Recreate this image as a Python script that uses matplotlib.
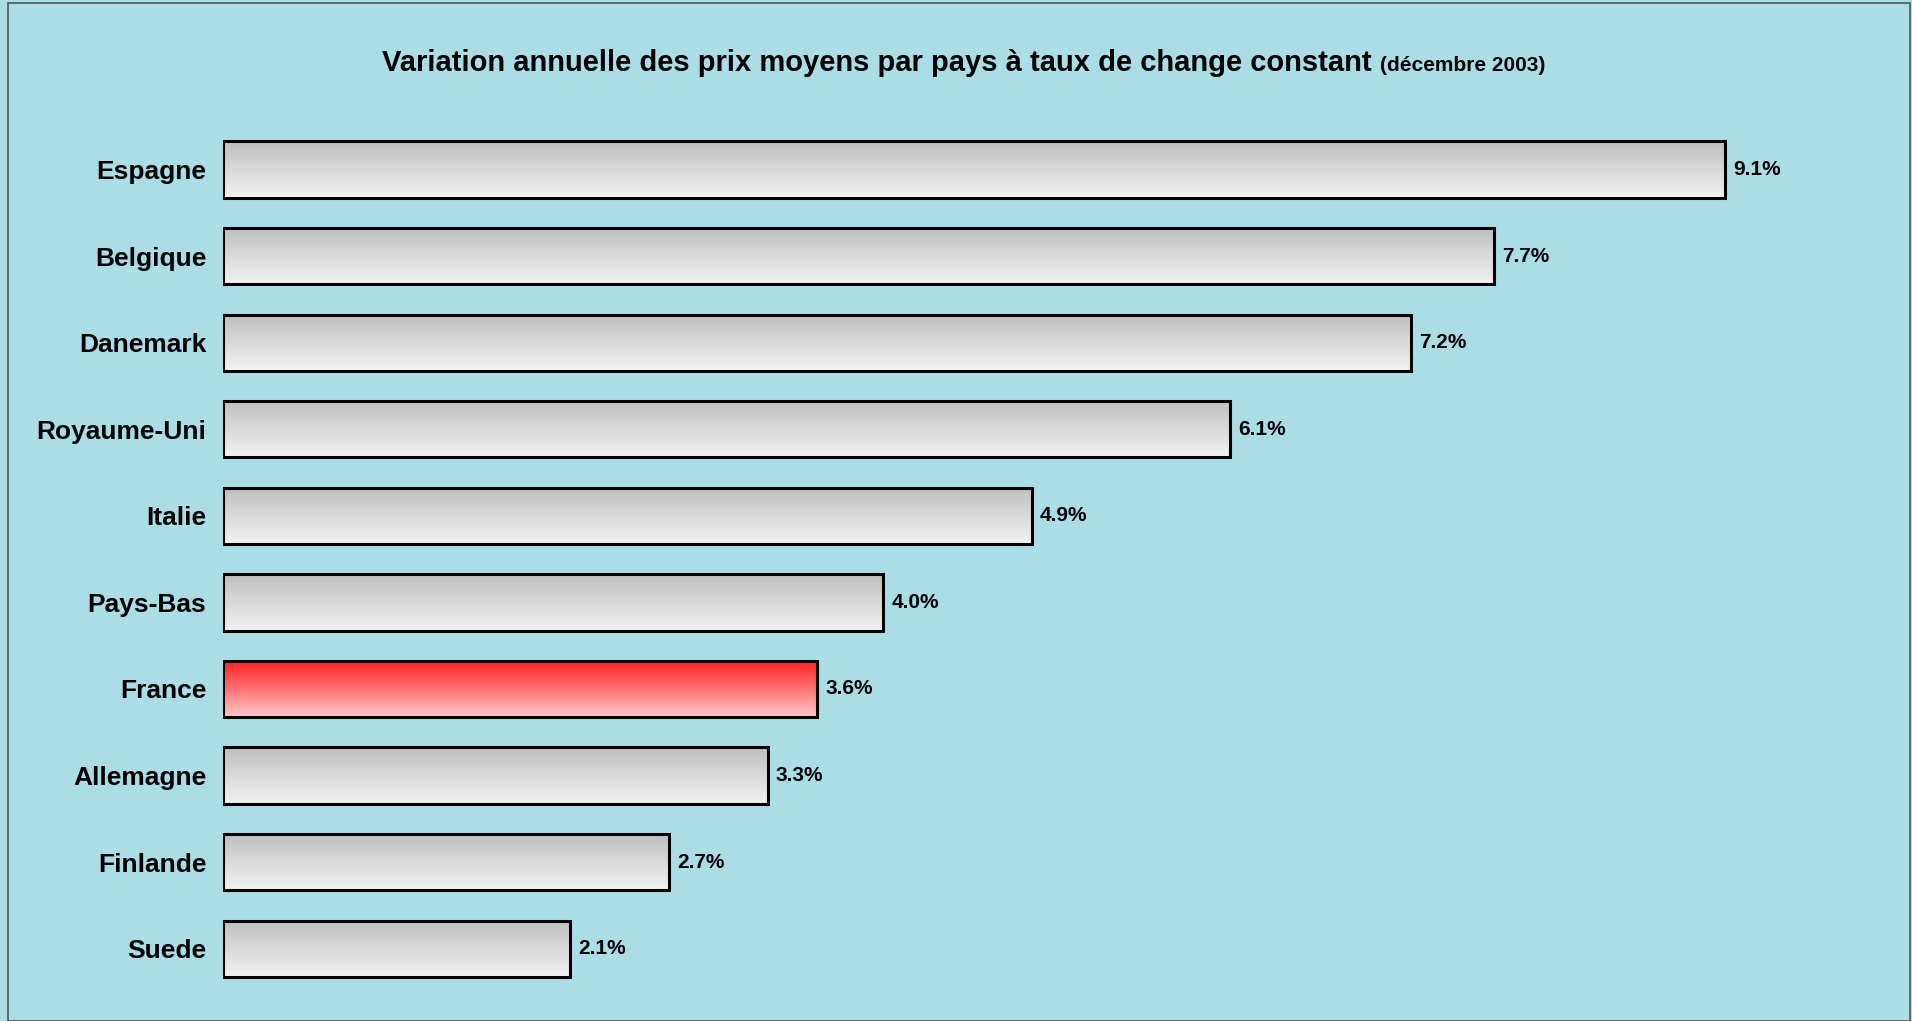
import matplotlib
matplotlib.use("Agg")
import matplotlib.pyplot as plt
import numpy as np
from matplotlib.patches import Rectangle

countries = ["Espagne", "Belgique", "Danemark", "Royaume-Uni", "Italie",
             "Pays-Bas", "France", "Allemagne", "Finlande", "Suede"]
values = [9.1, 7.7, 7.2, 6.1, 4.9, 4.0, 3.6, 3.3, 2.7, 2.1]
highlight = "France"

plt.rcParams['font.family'] = ['Liberation Sans', 'DejaVu Sans']

fig = plt.figure(figsize=(19.12, 10.21), dpi=100)
fig.patch.set_facecolor('#abdde6')
# thin frame round the picture
fig.patches.append(Rectangle((0.004, 0.0), 0.995, 0.997, transform=fig.transFigure,
                             fill=False, edgecolor='#555555', linewidth=1.2))

ax = fig.add_axes([0.1166, 0.0284, 0.877, 0.848])
ax.set_facecolor('none')

y = np.arange(len(countries))
bars = ax.barh(y, values, height=0.65, facecolor='none', edgecolor='black',
               linewidth=2.2, zorder=3)

grey = np.linspace(0, 1, 64).reshape(-1, 1)
for bar, name, v in zip(bars, countries, values):
    x0, y0 = bar.get_x(), bar.get_y()
    w, h = bar.get_width(), bar.get_height()
    if name == highlight:
        top, bot = np.array([1.0, 0.12, 0.12]), np.array([1.0, 0.78, 0.78])
    else:
        top, bot = np.array([0.75, 0.75, 0.75]), np.array([0.95, 0.95, 0.95])
    img = top + (bot - top) * grey[:, :, None] * np.ones((1, 1, 3))
    # y axis is inverted, so row 0 sits at the top of the bar
    ax.imshow(img, extent=(x0, x0 + w, y0 + h, y0), aspect='auto',
              interpolation='bilinear', zorder=2)
    ax.text(v + 0.05, bar.get_y() + h / 2, f"{v:.1f}%", va='center', ha='left',
            fontsize=15, fontweight='bold', zorder=4)

ax.set_xlim(0, 10.16)
ax.set_ylim(len(countries) - 0.5, -0.5)
ax.set_yticks(y)
ax.set_yticklabels(countries, fontsize=19, fontweight='bold')
ax.tick_params(axis='y', length=0, pad=12)
ax.set_xticks([])
for s in ax.spines.values():
    s.set_visible(False)

fig.text(0.7175, 0.9305, "Variation annuelle des prix moyens par pays à taux de change constant",
         ha='right', va='baseline', fontsize=21, fontweight='bold')
fig.text(0.7218, 0.9305, "(décembre 2003)", ha='left', va='baseline',
         fontsize=15, fontweight='bold')

fig.savefig("out.png", dpi=100, facecolor=fig.get_facecolor())
